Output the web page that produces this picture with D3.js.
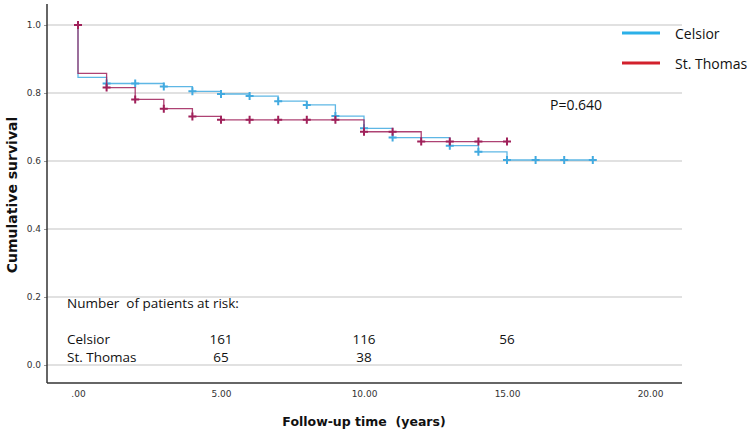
<!DOCTYPE html>
<html>
<head>
<meta charset="utf-8">
<script src="https://cdn.jsdelivr.net/npm/d3@7"></script>
<style>
  body { margin: 0; background: #fff; }
  svg { display: block; }
  .tick text { font-family: "DejaVu Sans", sans-serif; font-size: 9px; fill: #333; }
  .lbl { font-family: "Open Sans", sans-serif; fill: #111; white-space: pre; }
  .title { font-family: "DejaVu Sans", sans-serif; font-weight: bold; font-size: 14px; fill: #111; white-space: pre; }
</style>
</head>
<body>
<svg width="750" height="431"></svg>
<script>
// Kaplan-Meier steps: [time, survival]
var celsiorSteps = [[0, 1.0], [0, 0.846], [1, 0.828], [3, 0.819], [4, 0.805], [5, 0.797], [6, 0.791],
                    [7, 0.776], [8, 0.765], [9, 0.732], [10, 0.696], [11, 0.669], [13, 0.645],
                    [14, 0.627], [15, 0.603]];
var celsiorEnd = 18;
var celsiorCensor = [1, 2, 3, 4, 5, 6, 7, 8, 9, 10, 11, 13, 14, 15, 16, 17, 18];

var thomasSteps = [[0, 1.0], [0, 0.858], [1, 0.816], [2, 0.781], [3, 0.754], [4, 0.731], [5, 0.721],
                   [10, 0.686], [12, 0.657]];
var thomasEnd = 15;
var thomasCensor = [0, 1, 2, 3, 4, 5, 6, 7, 8, 9, 10, 11, 12, 13, 14, 15];

var xTicks = [0, 5, 10, 15, 20];
var yTicks = [0, 0.2, 0.4, 0.6, 0.8, 1.0];

var riskTimes = [5, 10, 15];
var celsiorRisk = [161, 116, 56];
var thomasRisk = [65, 38];

var blue = "#42aae0", red = "#a0215a";

var svg = d3.select("svg");
var plotLeft = 47, plotRight = 682, plotTop = 4, plotBottom = 383;

var x = d3.scaleLinear().domain([0, 20]).range([78, 650]);
var y = d3.scaleLinear().domain([0, 1]).range([365, 25]);

// gridlines
svg.append("g").selectAll("line")
    .data(yTicks).enter().append("line")
    .attr("x1", plotLeft).attr("x2", plotRight)
    .attr("y1", function(d) { return y(d); }).attr("y2", function(d) { return y(d); })
    .attr("stroke", "#c4c4c4").attr("stroke-width", 1.2);

// y axis
var yAxis = svg.append("g")
    .attr("transform", "translate(" + plotLeft + ",0)")
    .call(d3.axisLeft(y).tickValues(yTicks).tickFormat(d3.format(".1f")).tickSize(3).tickPadding(3));
yAxis.select(".domain").remove();
yAxis.selectAll(".tick line").attr("stroke", "#999");

// x axis
var xAxis = svg.append("g")
    .attr("transform", "translate(0," + plotBottom + ")")
    .call(d3.axisBottom(x).tickValues(xTicks)
        .tickFormat(function(d) { return d === 0 ? ".00" : d.toFixed(2); })
        .tickSize(0).tickPadding(8));
xAxis.select(".domain").remove();

// frame
svg.append("line").attr("x1", plotLeft).attr("x2", plotLeft).attr("y1", plotTop).attr("y2", plotBottom)
    .attr("stroke", "#333").attr("stroke-width", 1.5);
svg.append("line").attr("x1", plotLeft).attr("x2", plotRight).attr("y1", plotBottom).attr("y2", plotBottom)
    .attr("stroke", "#333").attr("stroke-width", 1.5);

// survival curves
function stepPoints(steps, end) {
    var pts = steps.map(function(d) { return [d[0], d[1]]; });
    pts.push([end, steps[steps.length - 1][1]]);
    return pts;
}
var line = d3.line()
    .x(function(d) { return x(d[0]); })
    .y(function(d) { return y(d[1]); })
    .curve(d3.curveStepAfter);

function survAt(steps, t) {
    var s = steps[0][1];
    steps.forEach(function(d) { if (d[0] <= t) s = d[1]; });
    return s;
}

function drawCurve(steps, end, censor, color) {
    var g = svg.append("g");
    g.append("path")
        .datum(stepPoints(steps, end))
        .attr("d", line)
        .attr("fill", "none")
        .attr("stroke", color)
        .attr("stroke-opacity", 0.85)
        .attr("stroke-width", 1.3);
    g.selectAll("path.cens")
        .data(censor).enter().append("path")
        .attr("class", "cens")
        .attr("d", function(t) {
            var cx = x(t), cy = y(t === 0 ? 1 : survAt(steps.slice(1), t));
            return "M" + (cx - 4) + "," + cy + "H" + (cx + 4) + "M" + cx + "," + (cy - 4) + "V" + (cy + 4);
        })
        .attr("stroke", color)
        .attr("stroke-width", 2);
}
drawCurve(celsiorSteps, celsiorEnd, celsiorCensor, blue);
drawCurve(thomasSteps, thomasEnd, thomasCensor, red);

// legend
var legend = [["Celsior", "#2bb0e8", 33], ["St. Thomas", "#d2202c", 63]];
legend.forEach(function(d) {
    svg.append("line").attr("x1", 622).attr("x2", 660).attr("y1", d[2]).attr("y2", d[2])
        .attr("stroke", d[1]).attr("stroke-width", 3);
    svg.append("text").attr("class", "lbl").attr("x", 675).attr("y", d[2] + 5.5)
        .attr("font-size", 14).text(d[0]);
});

// p value
svg.append("text").attr("class", "lbl").attr("x", 550).attr("y", 110)
    .attr("font-size", 14).text("P=0.640");

// risk table
svg.append("text").attr("class", "lbl").attr("x", 67).attr("y", 308)
    .attr("font-size", 13.5).text("Number  of patients at risk:");
svg.append("text").attr("class", "lbl").attr("x", 67).attr("y", 344)
    .attr("font-size", 13.5).text("Celsior");
svg.append("text").attr("class", "lbl").attr("x", 67).attr("y", 362)
    .attr("font-size", 13.5).text("St. Thomas");
svg.append("g").selectAll("text").data(celsiorRisk).enter().append("text")
    .attr("class", "lbl").attr("font-size", 13.5).attr("text-anchor", "middle")
    .attr("x", function(d, i) { return x(riskTimes[i]); }).attr("y", 344)
    .text(function(d) { return d; });
svg.append("g").selectAll("text").data(thomasRisk).enter().append("text")
    .attr("class", "lbl").attr("font-size", 13.5).attr("text-anchor", "middle")
    .attr("x", function(d, i) { return x(riskTimes[i]); }).attr("y", 362)
    .text(function(d) { return d; });

// axis titles
svg.append("text").attr("class", "title").attr("x", 364).attr("y", 426)
    .attr("font-size", 12.5).style("font-size", "12.5px")
    .attr("text-anchor", "middle").text("Follow-up time  (years)");
svg.append("text").attr("class", "title")
    .attr("transform", "translate(17,195) rotate(-90)")
    .attr("text-anchor", "middle").text("Cumulative survival");
</script>
</body>
</html>
